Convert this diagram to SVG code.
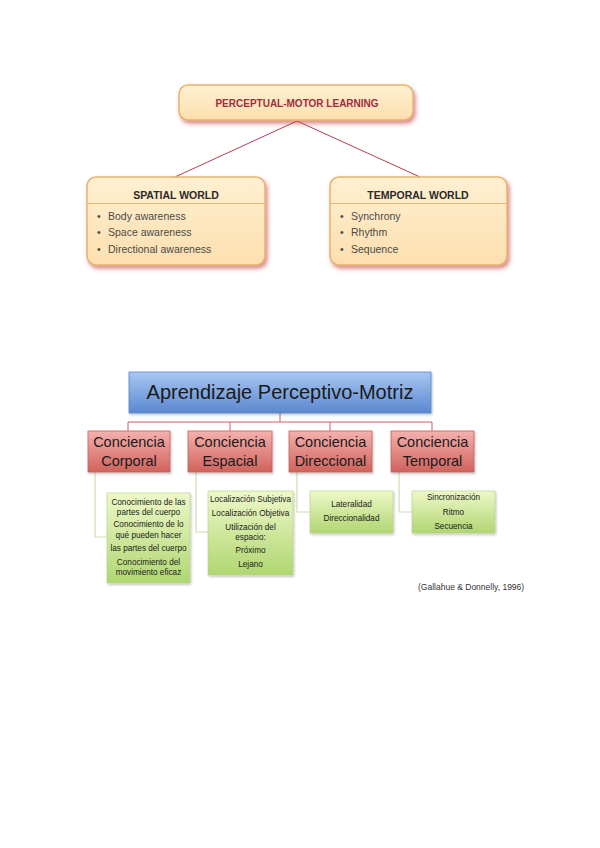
<svg xmlns="http://www.w3.org/2000/svg" width="600" height="848" viewBox="0 0 600 848">
<defs>
<linearGradient id="gCream" x1="0" y1="0" x2="0" y2="1"><stop offset="0" stop-color="#fff0d2"/><stop offset="1" stop-color="#fcdfae"/></linearGradient>
<linearGradient id="gBlue" x1="0" y1="0" x2="0" y2="1"><stop offset="0" stop-color="#a9c6f2"/><stop offset="1" stop-color="#5a88d0"/></linearGradient>
<linearGradient id="gRed" x1="0" y1="0" x2="0" y2="1"><stop offset="0" stop-color="#f4b1ae"/><stop offset="1" stop-color="#d0625c"/></linearGradient>
<linearGradient id="gGreen" x1="0" y1="0" x2="0" y2="1"><stop offset="0" stop-color="#eef8c8"/><stop offset="1" stop-color="#b0d672"/></linearGradient>
<filter id="shadow" x="-20%" y="-30%" width="140%" height="170%"><feDropShadow dx="2" dy="3" stdDeviation="2.2" flood-color="#c23a44" flood-opacity="0.6"/></filter>
<filter id="soft" x="-10%" y="-20%" width="120%" height="150%"><feDropShadow dx="1" dy="1.5" stdDeviation="1" flood-color="#000" flood-opacity="0.25"/></filter>
</defs>
<style>
.cream{fill:url(#gCream);stroke:#e6b26e;stroke-width:1.5}
.title1{font-family:"Liberation Sans",Arial,sans-serif;font-weight:bold;font-size:10px;fill:#9c2f3e}
.head1{font-family:"Liberation Sans",Arial,sans-serif;font-weight:bold;font-size:10.5px;fill:#2a2a2a}
.item1{font-family:"Liberation Sans",Arial,sans-serif;font-size:10.5px;fill:#4a4a4a}
.blue{fill:url(#gBlue);stroke:#5b84c4;stroke-width:0.8}
.red{fill:url(#gRed);stroke:#c9605a;stroke-width:0.8}
.green{fill:url(#gGreen);stroke:#b6cf88;stroke-width:0.6}
.t2{font-family:"Liberation Sans",Arial,sans-serif;font-size:20px;fill:#1a1a1a;text-anchor:middle}
.t3{font-family:"Liberation Sans",Arial,sans-serif;font-size:14.5px;fill:#1a1a1a;text-anchor:middle}
.t4{font-family:"Liberation Sans",Arial,sans-serif;font-size:8.2px;fill:#1a1a1a;text-anchor:middle}
.cite{font-family:"Liberation Sans",Arial,sans-serif;font-size:8.5px;fill:#333}
.c1{stroke:#b3404c;stroke-width:1;fill:none}
.c2{stroke:#c8605c;stroke-width:1;fill:none}
.c3{stroke:#cfdcb4;stroke-width:1.2;fill:none}
</style>

<g id="connectors">
<line class="c1" x1="297" y1="121" x2="175" y2="177"/>
<line class="c1" x1="297" y1="121" x2="420" y2="177"/>
<path class="c2" d="M280 413 V422 M128 431 V422 H432 V431 M230 422 V431 M330 422 V431"/>
<path class="c3" d="M95 472 V537 H107 M196 472 V532 H208 M297 472 V512 H310 M399 472 V512 H412"/>
</g>

<g id="perceptual-motor">
<rect class="cream" x="179" y="85" width="234" height="35" rx="9" filter="url(#shadow)"/>
<text class="title1" x="297" y="107" text-anchor="middle">PERCEPTUAL-MOTOR LEARNING</text>
</g>

<g id="spatial-world">
<rect class="cream" x="87" y="177" width="178" height="88" rx="9" filter="url(#shadow)"/>
<line x1="88" y1="203.5" x2="264" y2="203.5" stroke="#e6b26e" stroke-width="1"/>
<text class="head1" x="176" y="199" text-anchor="middle">SPATIAL WORLD</text>
<text class="item1" x="97" y="220">•</text><text class="item1" x="108" y="220">Body awareness</text>
<text class="item1" x="97" y="236">•</text><text class="item1" x="108" y="236">Space awareness</text>
<text class="item1" x="97" y="253">•</text><text class="item1" x="108" y="253">Directional awareness</text>
</g>

<g id="temporal-world">
<rect class="cream" x="330" y="177" width="177" height="88" rx="9" filter="url(#shadow)"/>
<line x1="331" y1="203.5" x2="506" y2="203.5" stroke="#e6b26e" stroke-width="1"/>
<text class="head1" x="418" y="199" text-anchor="middle">TEMPORAL WORLD</text>
<text class="item1" x="340" y="220">•</text><text class="item1" x="351" y="220">Synchrony</text>
<text class="item1" x="340" y="236">•</text><text class="item1" x="351" y="236">Rhythm</text>
<text class="item1" x="340" y="253">•</text><text class="item1" x="351" y="253">Sequence</text>
</g>

<g id="aprendizaje">
<rect class="blue" x="129" y="372" width="302" height="41" filter="url(#soft)"/>
<text class="t2" x="280" y="399">Aprendizaje Perceptivo-Motriz</text>
</g>

<g id="corporal">
<rect class="red" x="88" y="431" width="82" height="41" filter="url(#soft)"/>
<text class="t3" x="129" y="447">Conciencia</text>
<text class="t3" x="129" y="466">Corporal</text>
</g>
<g id="espacial">
<rect class="red" x="188" y="431" width="84" height="41" filter="url(#soft)"/>
<text class="t3" x="230" y="447">Conciencia</text>
<text class="t3" x="230" y="466">Espacial</text>
</g>
<g id="direccional">
<rect class="red" x="289" y="431" width="83" height="41" filter="url(#soft)"/>
<text class="t3" x="330.5" y="447">Conciencia</text>
<text class="t3" x="330.5" y="466">Direccional</text>
</g>
<g id="temporal">
<rect class="red" x="391" y="431" width="83" height="41" filter="url(#soft)"/>
<text class="t3" x="432.5" y="447">Conciencia</text>
<text class="t3" x="432.5" y="466">Temporal</text>
</g>

<g id="corporal-items">
<rect class="green" x="107" y="493" width="83" height="90" filter="url(#soft)"/>
<text class="t4" x="148.5" y="505">Conocimiento de las</text>
<text class="t4" x="148.5" y="515">partes del cuerpo</text>
<text class="t4" x="148.5" y="527">Conocimiento de lo</text>
<text class="t4" x="148.5" y="538">qué pueden hacer</text>
<text class="t4" x="148.5" y="551">las partes del cuerpo</text>
<text class="t4" x="148.5" y="565">Conocimiento del</text>
<text class="t4" x="148.5" y="575">movimiento eficaz</text>
</g>

<g id="espacial-items">
<rect class="green" x="208" y="491" width="85" height="84" filter="url(#soft)"/>
<text class="t4" x="250.5" y="502">Localización Subjetiva</text>
<text class="t4" x="250.5" y="516">Localización Objetiva</text>
<text class="t4" x="250.5" y="530">Utilización del</text>
<text class="t4" x="250.5" y="540">espacio:</text>
<text class="t4" x="250.5" y="553">Próximo</text>
<text class="t4" x="250.5" y="567">Lejano</text>
</g>

<g id="direccional-items">
<rect class="green" x="310" y="491" width="83" height="42" filter="url(#soft)"/>
<text class="t4" x="351.5" y="507">Lateralidad</text>
<text class="t4" x="351.5" y="521">Direccionalidad</text>
</g>

<g id="temporal-items">
<rect class="green" x="412" y="491" width="83" height="42" filter="url(#soft)"/>
<text class="t4" x="453.5" y="500">Sincronización</text>
<text class="t4" x="453.5" y="515">Ritmo</text>
<text class="t4" x="453.5" y="529">Secuencia</text>
</g>

<text class="cite" x="418" y="590">(Gallahue &amp; Donnelly, 1996)</text>
</svg>
